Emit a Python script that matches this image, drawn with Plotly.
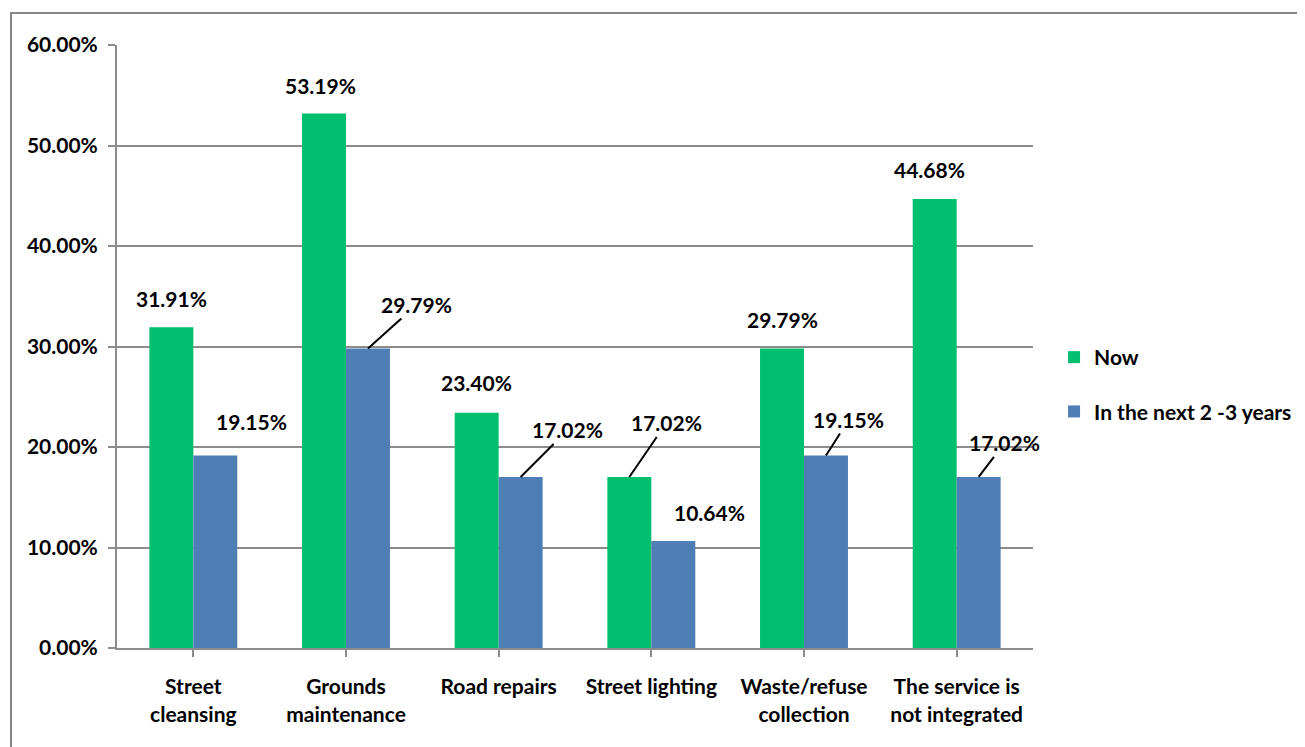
import plotly.graph_objects as go

categories = ["Street<br>cleansing", "Grounds<br>maintenance", "Road repairs",
              "Street lighting", "Waste/refuse<br>collection", "The service is<br>not integrated"]
now_vals = [0.3191, 0.5319, 0.2340, 0.1702, 0.2979, 0.4468]
next_vals = [0.1915, 0.2979, 0.1702, 0.1064, 0.1915, 0.1702]
series_names = ["Now", "In the next 2 -3 years"]
y_ticks = [0, 0.1, 0.2, 0.3, 0.4, 0.5, 0.6]

GREEN = "#00BF6F"
BLUE = "#4F7DB6"
GRID = "#8C8C8C"
FONT = dict(family="Lato, 'Open Sans', sans-serif", size=21, color="#000000", weight="bold")

fig = go.Figure()
fig.add_trace(go.Bar(x=list(range(6)), y=now_vals, name=series_names[0],
                     marker=dict(color=GREEN, line=dict(width=0)), legendgroup="a"))
fig.add_trace(go.Bar(x=list(range(6)), y=next_vals, name=series_names[1],
                     marker=dict(color=BLUE, line=dict(width=0)), legendgroup="b"))

off = 0.144
# label placement (pixel offsets) for each bar: (dx, dy, leader_line)
now_place = [(0, -29, False), (-4, -28, False), (0, -30, False),
             (37, -54, True), (0, -29, False), (-5, -29, False)]
next_place = [(36, -34, False), (49, -44, True), (47, -47, True),
              (36, -29, False), (23, -36, True), (26, -34, True)]

annotations = []
for vals, place, sign in ((now_vals, now_place, -1), (next_vals, next_place, 1)):
    for i, (v, (dx, dy, line)) in enumerate(zip(vals, place)):
        txt = f"{v*100:.2f}%"
        if line:
            annotations.append(dict(x=i + sign * off, y=v, xref="x", yref="y", text=txt,
                                    showarrow=True, arrowhead=0, arrowwidth=2,
                                    arrowcolor="#000000", ax=dx, ay=dy, standoff=0,
                                    font=FONT))
        else:
            annotations.append(dict(x=i + sign * off, y=v, xref="x", yref="y", text=txt,
                                    showarrow=False, xshift=dx, yshift=-dy, font=FONT))

fig.update_layout(
    width=1297, height=739,
    margin=dict(l=109, r=272, t=37, b=99, autoexpand=False),
    paper_bgcolor="white", plot_bgcolor="white",
    font=FONT,
    barmode="group", bargap=0.424, bargroupgap=0,
    showlegend=True,
    legend=dict(x=1.023, y=0.437, xanchor="left", yanchor="middle",
                font=dict(family="Lato, sans-serif", size=21, color="#000000", weight="bold"),
                tracegroupgap=24, itemwidth=30, bgcolor="rgba(0,0,0,0)"),
    annotations=annotations,
    xaxis=dict(tickmode="array", tickvals=list(range(6)), ticktext=categories,
               range=[-0.5, 5.5], showgrid=False, showline=True, linecolor=GRID, linewidth=2,
               ticks="outside", ticklen=7, tickwidth=2, tickcolor=GRID, tickson="boundaries",
               ticklabelstandoff=12, tickfont=FONT, automargin=False),
    yaxis=dict(range=[0, 0.6], tickvals=y_ticks, tickformat=".2%", showgrid=True,
               gridcolor=GRID, gridwidth=2, showline=True, linecolor=GRID, linewidth=2,
               ticks="outside", ticklen=7, tickwidth=2, tickcolor=GRID,
               ticklabelstandoff=6, tickfont=FONT, zeroline=False, automargin=False),
    shapes=[dict(type="rect", xref="paper", yref="paper",
                 x0=(11 - 117) / 916, x1=(1304 - 117) / 916,
                 y0=-0.3, y1=(648 - 13) / 603,
                 line=dict(color="#868686", width=2), fillcolor="rgba(0,0,0,0)", layer="below")],
)

fig.write_html("out.html")
